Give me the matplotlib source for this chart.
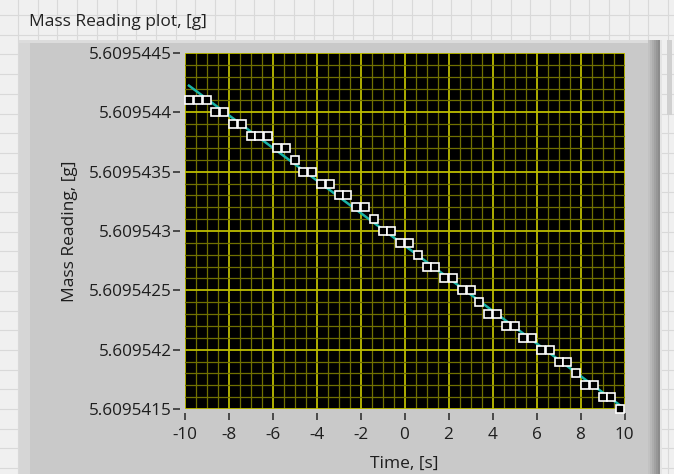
import numpy as np
import matplotlib.pyplot as plt
from matplotlib.patches import Rectangle
from matplotlib.lines import Line2D
from matplotlib.ticker import FixedLocator, FuncFormatter

# time stamps of the samples, [s]
time_s = [-9.8, -9.4, -9.0, -8.6, -8.2, -7.8, -7.4, -7.0, -6.6, -6.2,
          -5.8, -5.4, -5.0, -4.6, -4.2, -3.8, -3.4, -3.0, -2.6, -2.2,
          -1.8, -1.4, -1.0, -0.6, -0.2, 0.2, 0.6, 1.0, 1.4, 1.8,
          2.2, 2.6, 3.0, 3.4, 3.8, 4.2, 4.6, 5.0, 5.4, 5.8,
          6.2, 6.6, 7.0, 7.4, 7.8, 8.2, 8.6, 9.0, 9.4, 9.8]

# balance readings, [g]
mass_g = [5.6095441, 5.6095441, 5.6095441, 5.6095440, 5.6095440,
          5.6095439, 5.6095439, 5.6095438, 5.6095438, 5.6095438,
          5.6095437, 5.6095437, 5.6095436, 5.6095435, 5.6095435,
          5.6095434, 5.6095434, 5.6095433, 5.6095433, 5.6095432,
          5.6095432, 5.6095431, 5.6095430, 5.6095430, 5.6095429,
          5.6095429, 5.6095428, 5.6095427, 5.6095427, 5.6095426,
          5.6095426, 5.6095425, 5.6095425, 5.6095424, 5.6095423,
          5.6095423, 5.6095422, 5.6095422, 5.6095421, 5.6095421,
          5.6095420, 5.6095420, 5.6095419, 5.6095419, 5.6095418,
          5.6095417, 5.6095417, 5.6095416, 5.6095416, 5.6095415]

x_ticks = [-10, -8, -6, -4, -2, 0, 2, 4, 6, 8, 10]
y_ticks = [5.6095415, 5.6095420, 5.6095425, 5.6095430,
           5.6095435, 5.6095440, 5.6095445]

W, H = 674, 474


def px_box(x0, y0, x1, y1):
    # pixel box (top-left origin) -> figure fraction (left, bottom, width, height)
    return (x0 / W, 1 - y1 / H, (x1 - x0) / W, (y1 - y0) / H)


def panel_rect(fig, x0, y0, x1, y1, color):
    l, b, w, h = px_box(x0, y0, x1, y1)
    fig.add_artist(Rectangle((l, b), w, h, transform=fig.transFigure,
                             facecolor=color, edgecolor="none", zorder=1))


fig = plt.figure(figsize=(W / 100, H / 100), dpi=100)
fig.patch.set_facecolor("#f0f0f0")

# front panel grid
for gx in np.arange(18, W, 19.7):
    fig.add_artist(Line2D([gx / W] * 2, [0, 1], transform=fig.transFigure,
                          color="#d9d9d9", lw=0.8, zorder=0))
for gy in np.arange(15, H, 19.7):
    fig.add_artist(Line2D([0, 1], [1 - gy / H] * 2, transform=fig.transFigure,
                          color="#d9d9d9", lw=0.8, zorder=0))

# graph frame with a bevel on the right
panel_rect(fig, 19, 40, 662, H, "#c9c9c9")
panel_rect(fig, 19, 40, 30, H, "#d6d6d6")
panel_rect(fig, 19, 40, 662, 43, "#dcdcdc")
shades = ["#c2c2c2", "#b8b8b8", "#adadad", "#a2a2a2", "#979797", "#8c8c8c"]
for i, c in enumerate(shades):
    panel_rect(fig, 648 + 2 * i, 40, 650 + 2 * i, H, c)
panel_rect(fig, 660, 40, 662, H, "#e4e4e4")
panel_rect(fig, 667, 40, 672, 115, "#d0d0d0")

fig.text(29 / W, 1 - 22 / H, "Mass Reading plot, [g]", fontsize=12.5,
         family="Open Sans", color="#222222", va="center", ha="left")

ax = fig.add_axes(px_box(184.5, 53, 624.5, 409))
ax.set_zorder(2)
ax.set_facecolor("black")

t = np.array(time_s)
m = np.array(mass_g)
slope, icpt = np.polyfit(t, m - m.mean(), 1)
fit_g = m.mean() + icpt + slope * t

ax.plot(t, fit_g, color="#1ab3a6", lw=1.8, zorder=3)
ax.plot(t, m, ls="none", marker="s", ms=5.2, mfc="black", mec="white",
        mew=1.2, zorder=4, clip_on=False)

ax.set_xlim(-10, 10)
ax.set_ylim(y_ticks[0], y_ticks[-1])
ax.xaxis.set_major_locator(FixedLocator(x_ticks))
ax.yaxis.set_major_locator(FixedLocator(y_ticks))
ax.xaxis.set_minor_locator(FixedLocator(np.arange(-10, 10.01, 0.5)))
ax.yaxis.set_minor_locator(FixedLocator(np.linspace(y_ticks[0], y_ticks[-1], 31)))
ax.yaxis.set_major_formatter(FuncFormatter(lambda v, p: f"{v:.7f}".rstrip("0")))
ax.xaxis.set_major_formatter(FuncFormatter(lambda v, p: f"{v:g}"))

ax.grid(which="minor", color="#707000", lw=0.9)
ax.grid(which="major", color="#bcbc00", lw=1.3)
ax.set_axisbelow(True)

for side in ["top", "right"]:
    ax.spines[side].set_visible(False)
for side in ["left", "bottom"]:
    ax.spines[side].set_position(("outward", 3))
    ax.spines[side].set_visible(False)

ax.tick_params(which="minor", length=0)
ax.tick_params(which="major", direction="out", length=5, width=1.2,
               color="#333333", labelcolor="#1e1e1e", labelsize=12.3)
ax.tick_params(axis="x", pad=5)
ax.tick_params(axis="y", pad=1)
for lab in ax.get_xticklabels() + ax.get_yticklabels():
    lab.set_family("Open Sans")

ax.set_xlabel("Time, [s]", fontsize=12.5, family="Open Sans", color="#1e1e1e",
              labelpad=9)
ax.set_ylabel("Mass Reading, [g]", fontsize=12.5, family="Open Sans",
              color="#1e1e1e", labelpad=8)

fig.savefig("out.png", dpi=100, facecolor=fig.get_facecolor())
